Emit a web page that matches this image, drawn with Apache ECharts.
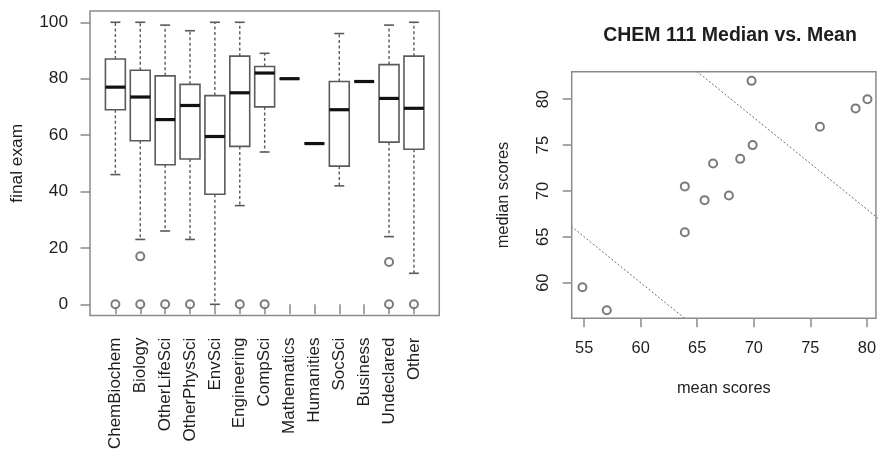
<!DOCTYPE html>
<html>
<head>
<meta charset="utf-8">
<script src="https://cdn.jsdelivr.net/npm/echarts@6/dist/echarts.min.js"></script>
<style>
  html, body { margin: 0; padding: 0; background: #fff; }
  #chart { width: 879px; height: 453px; }
</style>
</head>
<body>
<div id="chart"></div>
<script>
// Majors and their final exam score distributions
const majors = ['ChemBiochem', 'Biology', 'OtherLifeSci', 'OtherPhysSci', 'EnvSci', 'Engineering',
  'CompSci', 'Mathematics', 'Humanities', 'SocSci', 'Business', 'Undeclared', 'Other'];
const whiskerLow  = [46, 23, 26, 23, 0, 35, 54, 80, 57, 42, 79, 24, 11];
const quartile1   = [69, 58, 49.5, 51.5, 39, 56, 70, 80, 57, 49, 79, 57.5, 55];
const medianScore = [77, 73.5, 65.5, 70.5, 59.5, 75, 82, 80, 57, 69, 79, 73, 69.5];
const quartile3   = [87, 83, 81, 78, 74, 88, 84.3, 80, 57, 79, 79, 85, 88];
const whiskerHigh = [100, 100, 99, 97, 100, 100, 89, 80, 57, 96, 79, 99, 100];
const outlierScores = [[0], [17, 0], [0], [0], [], [0], [0], [], [], [], [], [15, 0], [0]];

// Mean score per major (paired with medianScore above)
const meanScore = [75.85, 68.8, 63.9, 63.9, 54.85, 69.9, 69.8, 80.05, 57, 65.65, 79, 66.4, 67.8];

// Reference lines on the scatter panel (two end points each)
const upperRefLine = [[60, 88], [90, 58]];
const lowerRefLine = [[50, 70], [70, 50]];

const boxTicks = [0, 20, 40, 60, 80, 100];
const meanTicks = [55, 60, 65, 70, 75, 80];
const medianTicks = [60, 65, 70, 75, 80];

const FONT = '"Liberation Sans", Arial, sans-serif';
const TEXT = '#1e1e1e';
const FRAME = '#8a8a8a';
const BOXLINE = '#5a5a5a';

const boxData = majors.map((m, i) => [i + 1, whiskerLow[i], quartile1[i], medianScore[i], quartile3[i], whiskerHigh[i]]);
const outlierData = [];
outlierScores.forEach((list, i) => list.forEach(v => outlierData.push([i + 1, v])));
const scatterData = meanScore.map((m, i) => [m, medianScore[i]]);

function renderBox(params, api) {
  const x = api.value(0);
  const lo = api.coord([x, api.value(1)]);
  const q1 = api.coord([x, api.value(2)]);
  const md = api.coord([x, api.value(3)]);
  const q3 = api.coord([x, api.value(4)]);
  const hi = api.coord([x, api.value(5)]);
  const w = api.size([0.8, 0])[0];
  const cap = w / 2;
  const cx = md[0];
  const solid = { stroke: BOXLINE, lineWidth: 1.6, fill: null };
  const dashed = { stroke: BOXLINE, lineWidth: 1.4, lineDash: [3, 2.5] };
  return {
    type: 'group',
    children: [
      { type: 'line', shape: { x1: cx, y1: q3[1], x2: cx, y2: hi[1] }, style: dashed },
      { type: 'line', shape: { x1: cx, y1: q1[1], x2: cx, y2: lo[1] }, style: dashed },
      { type: 'line', shape: { x1: cx - cap / 2, y1: hi[1], x2: cx + cap / 2, y2: hi[1] }, style: solid },
      { type: 'line', shape: { x1: cx - cap / 2, y1: lo[1], x2: cx + cap / 2, y2: lo[1] }, style: solid },
      { type: 'rect', shape: { x: cx - w / 2, y: q3[1], width: w, height: q1[1] - q3[1] },
        style: { stroke: BOXLINE, lineWidth: 1.6, fill: '#fff' } },
      { type: 'line', shape: { x1: cx - w / 2, y1: md[1], x2: cx + w / 2, y2: md[1] },
        style: { stroke: '#111', lineWidth: 3.2 } }
    ]
  };
}

const chart = echarts.init(document.getElementById('chart'), null, { renderer: 'canvas' });
chart.setOption({
  animation: false,
  backgroundColor: '#fff',
  textStyle: { fontFamily: FONT, color: TEXT },
  title: {
    text: 'CHEM 111 Median vs. Mean',
    left: 725, top: 21, textAlign: 'center',
    textStyle: { fontFamily: FONT, fontSize: 19.5, fontWeight: 'bold', color: TEXT }
  },
  grid: [
    { left: 90, top: 11, width: 349.3, height: 304.6, show: true, borderColor: FRAME, borderWidth: 1.5, backgroundColor: 'transparent' },
    { left: 571.7, top: 71.7, width: 305.8, height: 246.6, show: true, borderColor: FRAME, borderWidth: 1.5, backgroundColor: 'transparent' }
  ],
  xAxis: [
    {
      gridIndex: 0, type: 'value', min: -0.02, max: 14.02,
      axisLine: { show: false },
      splitLine: { show: false },
      axisTick: { show: true, length: 10, customValues: majors.map((m, i) => i + 1), lineStyle: { color: FRAME, width: 1.5 } },
      axisLabel: {
        customValues: majors.map((m, i) => i + 1),
        formatter: v => majors[Math.round(v) - 1] || '',
        rotate: 90, margin: 22, fontSize: 17, color: TEXT, fontFamily: FONT
      }
    },
    {
      gridIndex: 1, type: 'value', min: 53.9, max: 80.8,
      name: 'mean scores', nameLocation: 'middle', nameGap: 62,
      nameTextStyle: { fontSize: 16.4, color: TEXT, fontFamily: FONT },
      axisLine: { show: false },
      splitLine: { show: false },
      axisTick: { show: true, length: 9, customValues: meanTicks, lineStyle: { color: FRAME, width: 1.5 } },
      axisLabel: { customValues: meanTicks, margin: 22, fontSize: 16.4, color: TEXT, fontFamily: FONT }
    }
  ],
  yAxis: [
    {
      gridIndex: 0, type: 'value', min: -4, max: 104,
      name: 'final exam', nameLocation: 'middle', nameGap: 64, nameRotate: 90,
      nameTextStyle: { fontSize: 17.3, color: TEXT, fontFamily: FONT },
      axisLine: { show: false },
      splitLine: { show: false },
      axisTick: { show: true, length: 10, customValues: boxTicks, lineStyle: { color: FRAME, width: 1.5 } },
      axisLabel: { customValues: boxTicks, margin: 22, fontSize: 17.3, color: TEXT, fontFamily: FONT }
    },
    {
      gridIndex: 1, type: 'value', min: 56.12, max: 83.0,
      name: 'median scores', nameLocation: 'middle', nameGap: 60, nameRotate: 90,
      nameTextStyle: { fontSize: 16.4, color: TEXT, fontFamily: FONT },
      axisLine: { show: false },
      splitLine: { show: false },
      axisTick: { show: true, length: 9, customValues: medianTicks, lineStyle: { color: FRAME, width: 1.5 } },
      axisLabel: { customValues: medianTicks, rotate: 90, margin: 20, fontSize: 16.4, color: TEXT, fontFamily: FONT }
    }
  ],
  series: [
    {
      name: 'final exam', type: 'custom', xAxisIndex: 0, yAxisIndex: 0,
      renderItem: renderBox, data: boxData,
      encode: { x: 0, y: [1, 2, 3, 4, 5] }, clip: false, z: 2
    },
    {
      name: 'outliers', type: 'scatter', xAxisIndex: 0, yAxisIndex: 0,
      data: outlierData, symbol: 'emptyCircle', symbolSize: 8,
      itemStyle: { color: BOXLINE, borderColor: BOXLINE, borderWidth: 1.5 }, z: 3
    },
    {
      name: 'upper reference', type: 'line', xAxisIndex: 1, yAxisIndex: 1,
      data: upperRefLine, symbol: 'none', clip: true,
      lineStyle: { color: '#6e6e6e', width: 1, type: [2, 2] }
    },
    {
      name: 'lower reference', type: 'line', xAxisIndex: 1, yAxisIndex: 1,
      data: lowerRefLine, symbol: 'none', clip: true,
      lineStyle: { color: '#6e6e6e', width: 1, type: [2, 2] }
    },
    {
      name: 'median vs mean', type: 'scatter', xAxisIndex: 1, yAxisIndex: 1,
      data: scatterData, symbol: 'emptyCircle', symbolSize: 8,
      itemStyle: { color: BOXLINE, borderColor: BOXLINE, borderWidth: 1.5 }, z: 3
    }
  ]
});
</script>
</body>
</html>
